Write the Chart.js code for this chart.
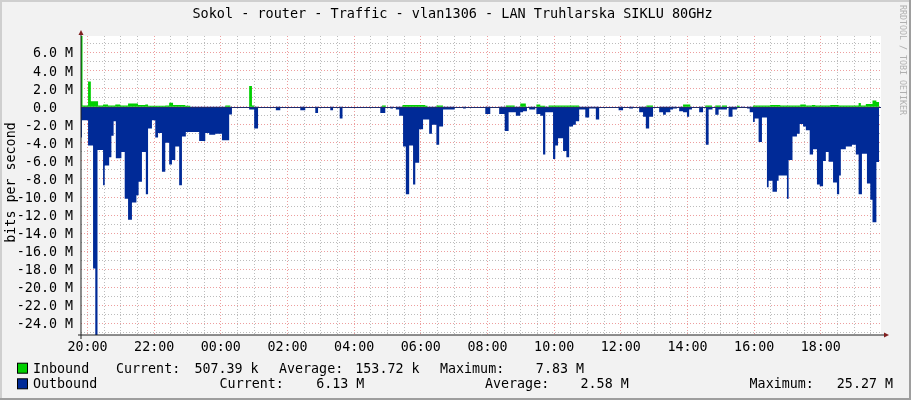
<!DOCTYPE html>
<html>
<head>
<meta charset="utf-8">
<script src="https://cdn.jsdelivr.net/npm/chart.js@4.4.0/dist/chart.umd.min.js"></script>
<style>
    html, body { margin: 0; padding: 0; background: #f2f2f2; }
    #wrap { width: 911px; height: 400px; }
</style>
</head>
<body>
<div id="wrap"><canvas id="myChart" width="911" height="400"></canvas></div>
<script>
// Minutes after 20:00 where each step starts, and the value it holds (M bits/s)
const inTimes = [-12, -9, 1, 6, 19, 28, 37, 50, 59, 73, 91, 104, 109, 140, 147, 154, 176, 185,
    248, 257, 291, 296, 300, 530, 537, 567, 608, 612, 628, 640, 753, 769, 779, 789, 808, 815, 824, 830, 885,
    1006, 1018, 1072, 1085, 1112, 1124, 1130, 1139, 1142, 1151, 1169, 1174, 1198, 1229, 1247, 1283, 1293,
    1304, 1310, 1337, 1352, 1388, 1392, 1401, 1413, 1420, 1425];
const inValues = [7.83, 0.15, 2.8, 0.6, 0.15, 0.25, 0.15, 0.25, 0.15, 0.35, 0.2, 0.25, 0.1, 0.15, 0.45, 0.2, 0.1, 0,
    0.15, 0, 2.3, 0.15, 0, 0.15, 0, 0.2, 0.1, 0, 0.15, 0, 0.15, 0, 0.35, 0, 0.25, 0.1, 0, 0.15, 0,
    0.15, 0, 0.25, 0, 0.15, 0, 0.15, 0, 0.15, 0, 0.1, 0, 0.15, 0.2, 0.15, 0.25, 0.15,
    0.2, 0.15, 0.2, 0.15, 0.4, 0.15, 0.3, 0.7, 0.51, 0.51];

const outTimes = [-12, -10, 1, 10, 14, 18, 28, 31, 39, 43, 47, 51, 61, 67, 73, 80, 88, 92, 98, 105, 109, 116,
    122, 127, 134, 140, 147, 152, 158, 165, 170, 177, 201, 212, 219, 230, 242, 255, 260,
    291, 300, 307, 339, 347, 383, 392, 410, 415, 437, 442, 454, 459,
    527, 536, 545, 550, 555, 561, 568, 573, 579, 586, 590, 597, 604, 615, 620, 628, 633, 640, 661,
    676, 681, 716, 725, 741, 751, 758, 771, 779, 784, 791, 795, 806, 808, 815, 820, 824,
    838, 842, 847, 856, 862, 867, 874, 879, 885, 896, 903, 915, 921,
    956, 964, 975, 982, 993, 1000, 1005, 1011, 1018, 1029, 1036, 1041, 1049, 1054, 1061,
    1065, 1072, 1079, 1083, 1088, 1101, 1108, 1113, 1118, 1125, 1130, 1136, 1151, 1154, 1161, 1169,
    1176, 1183, 1187, 1192, 1198, 1201, 1208, 1214, 1223, 1226, 1233, 1241, 1244, 1259, 1262, 1269,
    1277, 1282, 1288, 1293, 1300, 1306, 1313, 1318, 1324, 1329, 1334, 1342, 1349, 1353, 1356, 1365,
    1376, 1383, 1388, 1394, 1403, 1409, 1413, 1420, 1425];
const outValues = [-3.4, -1.5, -4.3, -17.9, -25.27, -4.8, -8.7, -6.5, -5.6, -3.2, -1.6, -5.7, -5.0, -10.2, -12.5, -10.6, -9.8, -8.3, -5.0, -9.7, -2.4, -1.5,
    -3.4, -2.9, -7.2, -4.0, -6.4, -5.9, -4.4, -8.7, -3.3, -2.8, -3.8, -2.9, -3.1, -3.0, -3.7, -0.85, 0,
    -0.3, -2.4, 0, -0.4, 0, -0.4, 0, -0.7, 0, -0.4, 0, -1.3, 0,
    -0.7, 0, -0.2, 0, -0.3, -1.0, -4.4, -9.7, -4.3, -8.6, -6.2, -2.5, -1.4, -3.0, -2.0, -4.2, -2.2, -0.3, 0,
    -0.2, 0, -0.8, 0, -0.8, -2.7, -0.6, -1.0, -0.6, -0.5, 0, -0.3, 0, -0.8, -1.0, -5.3, -0.6,
    -5.8, -4.3, -3.5, -4.9, -5.6, -2.2, -2.0, -1.6, -0.3, -1.2, -0.2, -1.4, 0,
    -0.4, 0, -0.2, 0, -0.6, -1.1, -2.4, -1.1, 0, -0.6, -0.9, -0.6, -0.3, -0.2, 0,
    -0.5, -0.6, -1.1, -0.3, 0, -0.6, 0, -4.2, -0.3, 0, -0.9, -0.3, 0, -1.1, -0.3, 0,
    -0.15, 0, -0.2, -0.6, -1.7, -1.3, -3.9, -1.2, -8.9, -8.2, -9.4, -8.2, -7.6, -10.2, -5.9, -3.3,
    -3.0, -1.9, -2.2, -2.6, -5.3, -4.7, -8.6, -8.8, -6.0, -5.0, -6.1, -8.4, -9.7, -7.6, -4.7, -4.4,
    -4.2, -5.3, -9.7, -5.2, -8.5, -10.3, -12.8, -6.13, -6.13];

const hourLabels = ['20:00', '22:00', '00:00', '02:00', '04:00', '06:00', '08:00', '10:00', '12:00', '14:00', '16:00', '18:00'];
const yMin = -25.27;
const yMax = 7.83;

const legendRows = [
    { name: 'Inbound', color: '#00cf00', labels: [[116, 'Current:'], [279, 'Average:'], [440, 'Maximum:']],
      values: [[258.6, '507.39 k'], [419.5, '153.72 k'], [584, '7.83 M']] },
    { name: 'Outbound', color: '#002a97', labels: [[219.6, 'Current:'], [485, 'Average:'], [749.6, 'Maximum:']],
      values: [[364.3, '6.13 M'], [628.7, '2.58 M'], [893, '25.27 M']] }
];

const FONT = 'DejaVu Sans Mono';
const minorGrid = 'rgba(143,143,143,0.6)';
const majorGrid = 'rgba(222,79,79,0.55)';

function toPoints(times, values) {
    return times.map((t, i) => ({ x: t, y: values[i] }));
}

// Background, canvas, axes, title, legend and watermark (rrdtool look)
const rrdDecor = {
    id: 'rrdDecor',
    beforeDraw(chart) {
        const ctx = chart.ctx;
        const a = chart.chartArea;
        ctx.save();
        ctx.fillStyle = '#f2f2f2';
        ctx.fillRect(0, 0, chart.width, chart.height);
        ctx.fillStyle = '#cfcfcf';
        ctx.fillRect(0, 0, chart.width, 2);
        ctx.fillRect(0, 0, 2, chart.height);
        ctx.fillStyle = '#9e9e9e';
        ctx.fillRect(chart.width - 2, 0, 2, chart.height);
        ctx.fillRect(0, chart.height - 2, chart.width, 2);
        ctx.fillStyle = '#ffffff';
        ctx.fillRect(a.left, a.top, a.right - a.left, a.bottom - a.top);
        ctx.restore();
    },
    afterDraw(chart) {
        const ctx = chart.ctx;
        const a = chart.chartArea;
        const y0 = Math.round(chart.scales.y.getPixelForValue(0)) + 0.5;
        ctx.save();
        // zero line
        ctx.strokeStyle = '#1e2b6e';
        ctx.lineWidth = 1;
        ctx.beginPath();
        ctx.moveTo(a.left, y0);
        ctx.lineTo(a.right, y0);
        ctx.stroke();
        // axes
        ctx.strokeStyle = '#1f1f1f';
        ctx.beginPath();
        ctx.moveTo(a.left, a.bottom + 4);
        ctx.lineTo(a.left, a.top - 4);
        ctx.moveTo(a.left - 3, a.bottom);
        ctx.lineTo(a.right + 4, a.bottom);
        ctx.stroke();
        ctx.fillStyle = '#801f1f';
        ctx.beginPath();
        ctx.moveTo(a.left - 2.5, a.top - 1);
        ctx.lineTo(a.left + 2.5, a.top - 1);
        ctx.lineTo(a.left, a.top - 6);
        ctx.closePath();
        ctx.fill();
        ctx.beginPath();
        ctx.moveTo(a.right + 3, a.bottom - 2.5);
        ctx.lineTo(a.right + 3, a.bottom + 2.5);
        ctx.lineTo(a.right + 8, a.bottom);
        ctx.closePath();
        ctx.fill();

        // title
        ctx.fillStyle = '#000';
        ctx.font = '13.5px "' + FONT + '"';
        ctx.textAlign = 'center';
        ctx.textBaseline = 'alphabetic';
        ctx.fillText('Sokol - router - Traffic - vlan1306 - LAN Truhlarska SIKLU 80GHz', 452.5, 17.5);

        // vertical axis title
        ctx.save();
        ctx.translate(15, (a.top + a.bottom) / 2 - 3);
        ctx.rotate(-Math.PI / 2);
        ctx.font = '13.33px "' + FONT + '"';
        ctx.fillText('bits per second', 0, 0);
        ctx.restore();

        // watermark
        ctx.save();
        ctx.translate(900, 5);
        ctx.rotate(Math.PI / 2);
        ctx.font = '8.3px "' + FONT + '"';
        ctx.fillStyle = '#b0b0b0';
        ctx.textAlign = 'left';
        ctx.fillText('RRDTOOL / TOBI OETIKER', 0, 0);
        ctx.restore();

        // legend
        ctx.font = '13.33px "' + FONT + '"';
        legendRows.forEach((row, i) => {
            const base = 372.7 + i * 15.6;
            ctx.fillStyle = row.color;
            ctx.fillRect(17.5, base - 9.5, 10, 10);
            ctx.strokeStyle = '#000';
            ctx.strokeRect(17.5, base - 9.5, 10, 10);
            ctx.fillStyle = '#000';
            ctx.textAlign = 'left';
            ctx.fillText(row.name, 33, base);
            row.labels.forEach(([x, t]) => ctx.fillText(t, x, base));
            ctx.textAlign = 'right';
            row.values.forEach(([x, t]) => ctx.fillText(t, x, base));
        });
        ctx.restore();
    }
};

const ctx = document.getElementById('myChart').getContext('2d');
const myChart = new Chart(ctx, {
    type: 'line',
    data: {
        datasets: [{
            label: 'Inbound',
            data: toPoints(inTimes, inValues),
            stepped: true,
            fill: 'origin',
            backgroundColor: '#00cf00',
            borderWidth: 0,
            pointRadius: 0
        }, {
            label: 'Outbound',
            data: toPoints(outTimes, outValues),
            stepped: true,
            fill: 'origin',
            backgroundColor: '#002a97',
            borderWidth: 0,
            pointRadius: 0
        }]
    },
    options: {
        responsive: false,
        animation: false,
        devicePixelRatio: 1,
        layout: { padding: { left: 0, top: 36, right: 30, bottom: 0 } },
        plugins: { legend: { display: false }, tooltip: { enabled: false } },
        scales: {
            x: {
                type: 'linear',
                min: -11.7,
                max: 1428.3,
                z: 1,
                afterBuildTicks: (scale) => {
                    const t = [];
                    for (let v = 0; v <= 1410; v += 30) t.push({ value: v });
                    scale.ticks = t;
                },
                afterFit: (scale) => { scale.height = 65; },
                ticks: {
                    autoSkip: false,
                    maxRotation: 0,
                    padding: 5,
                    color: '#000',
                    font: { family: FONT, size: 13.33 },
                    callback: (v) => (v % 120 === 0 ? hourLabels[v / 120] : '')
                },
                grid: {
                    drawTicks: false,
                    lineWidth: 1,
                    color: (c) => (c.tick && c.tick.value % 120 === 0 ? majorGrid : minorGrid)
                },
                border: { display: false, dash: [1, 2] }
            },
            y: {
                min: yMin,
                max: yMax,
                z: 1,
                afterBuildTicks: (scale) => {
                    const t = [];
                    for (let v = -25; v <= 7; v++) t.push({ value: v });
                    scale.ticks = t;
                },
                afterFit: (scale) => { scale.width = 81; },
                ticks: {
                    autoSkip: false,
                    padding: 8,
                    labelOffset: 1.5,
                    color: '#000',
                    font: { family: FONT, size: 13.33 },
                    callback: (v) => (v % 2 === 0 ? (v === 0 ? '0.0  ' : v.toFixed(1) + ' M') : '')
                },
                grid: {
                    drawTicks: false,
                    lineWidth: 1,
                    color: (c) => (c.tick && c.tick.value % 2 === 0 ? majorGrid : minorGrid)
                },
                border: { display: false, dash: [1, 2] }
            }
        }
    },
    plugins: [rrdDecor]
});
</script>
</body>
</html>
